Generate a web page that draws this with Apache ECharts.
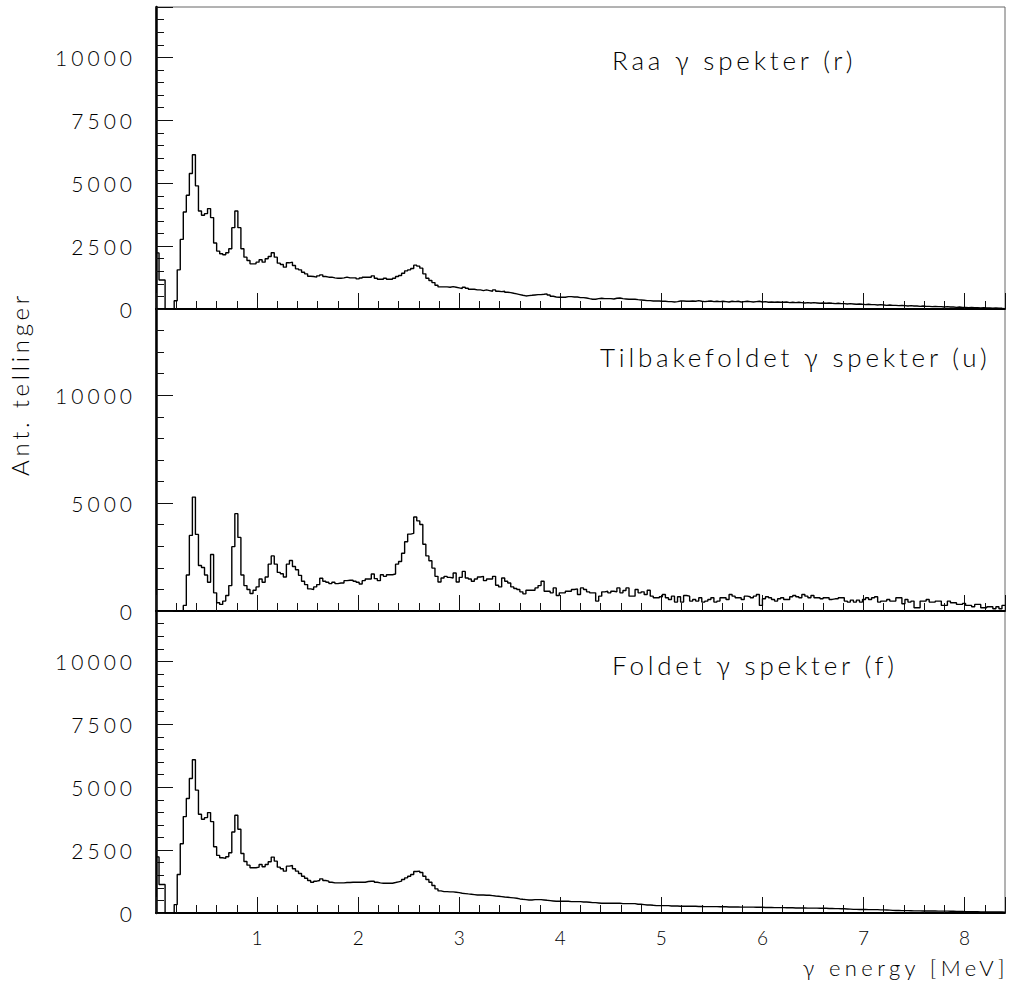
<!DOCTYPE html>
<html>
<head>
<meta charset="utf-8">
<script src="https://cdn.jsdelivr.net/npm/echarts@6/dist/echarts.min.js"></script>
<style>
html, body { margin: 0; padding: 0; background: #fff; }
#chart { width: 1010px; height: 984px; }
/* bred skrift som i originalen: litt ekstra sperring */
#chart text[style*="26px"] { letter-spacing: 3.8px; }
#chart text[style*="24px"] { letter-spacing: 3.7px; }
#chart text[style*="22px"] { letter-spacing: 4.4px; }
#chart text[style*="21px"] { letter-spacing: 4px; }
</style>
</head>
<body>
<div id="chart"></div>
<script>
// gamma-spekter, tre paneler (raa / tilbakefoldet / foldet)

var binWidth = 0.03; // MeV per kanal
var xMax = 8.4;

var raa = [
    2230, 1150, 1150, 0, 0, 0, 330, 1556, 2766, 3857,
    4522, 5387, 6131, 4894, 3897, 3724, 3790, 3990, 3631, 2620,
    2301, 2194, 2155, 2234, 2394, 3232, 3897, 3232, 2394, 2061,
    1928, 1795, 1795, 1862, 1955, 1862, 1995, 2088, 2234, 2061,
    1822, 1769, 1662, 1835, 1862, 1729, 1596, 1556, 1463, 1396,
    1303, 1290, 1264, 1317, 1357, 1290, 1264, 1264, 1237, 1224,
    1224, 1237, 1264, 1237, 1237, 1237, 1197, 1230, 1263, 1263,
    1263, 1317, 1224, 1184, 1184, 1224, 1184, 1184, 1224, 1290,
    1330, 1423, 1516, 1556, 1609, 1742, 1702, 1623, 1397, 1224,
    1130, 1050, 944, 878, 878, 878, 865, 891, 865, 838,
    811, 865, 825, 785, 785, 758, 758, 732, 758, 732,
    705, 758, 705, 692, 705, 665, 652, 625, 599, 572,
    545, 519, 532, 545, 559, 572, 572, 585, 599, 559,
    505, 479, 466, 466, 466, 492, 492, 479, 479, 452,
    452, 439, 412, 386, 386, 412, 426, 412, 412, 412,
    399, 426, 439, 412, 399, 386, 386, 386, 372, 359,
    346, 333, 333, 320, 320, 320, 306, 306, 293, 293,
    280, 293, 320, 320, 306, 306,
    320, 306, 333, 306, 293, 306, 320, 293, 306, 293,
    306, 293, 280, 306, 293, 306, 280, 293, 306, 293,
    280, 293, 306, 280, 293, 266, 280, 266, 280, 266,
    266, 280, 253, 266, 253, 266, 253, 240, 253, 240,
    253, 240, 226, 240, 226, 240, 226, 213, 226, 213,
    213, 200, 213, 200, 186, 200, 186, 173, 186, 173,
    173, 160, 173, 160, 146, 160, 146, 146, 133, 146,
    133, 120, 133, 120, 120, 106, 120, 106, 106, 93,
    106, 93, 93, 80, 93, 80, 80, 66, 80, 66,
    66, 53, 66, 53, 53, 40, 53, 40, 40, 27,
    40, 27, 27, 13
];

var tilbake = [
    0, 0, 0, 0, 0, 0, 0, 0, 0, 260,
    1668, 3504, 5279, 3550, 2111, 2020, 1668, 1331, 2616, 842,
    383, 306, 459, 719, 1178, 2984, 4514, 3412, 1668, 1178,
    995, 811, 964, 1117, 1484, 1331, 1576, 2173, 2555, 2173,
    1790, 1729, 1576, 2173, 2341, 2066, 1913, 1652, 1377, 1224,
    1025, 995, 1117, 1224, 1515, 1377, 1331, 1270, 1331, 1270,
    1300, 1300, 1408, 1423, 1423, 1377, 1331, 1255, 1408, 1484,
    1484, 1714, 1500, 1408, 1683, 1607, 1683, 1683, 1714, 2173,
    2295, 2678, 3213, 3565, 3596, 4361, 4177, 4009, 3091, 2555,
    2326, 1989, 1607, 1346, 1530, 1607, 1561, 1530, 1760, 1346,
    1561, 1836, 1530, 1484, 1377, 1484, 1576, 1607, 1408, 1484,
    1484, 1607, 1193, 1117, 1530, 1377, 1300, 1117, 1040, 995,
    887, 796, 964, 964, 964, 1071, 1178, 1377, 918, 918,
    842, 1071, 719, 842, 842, 918, 918, 995, 1025, 765,
    1071, 995, 887, 842, 842, 459, 689, 887, 918, 842,
    918, 887, 1071, 842, 949, 1071, 689, 689, 995, 842,
    887, 765, 964, 689, 612, 612, 658, 765, 612, 536,
    689, 413, 658, 413, 719, 689,
    459, 536, 459, 612, 413, 459, 536, 612, 413, 459,
    612, 612, 536, 765, 689, 612, 612, 536, 689, 658,
    612, 689, 765, 260, 565, 658, 612, 536, 459, 565,
    612, 536, 536, 658, 719, 658, 612, 765, 689, 612,
    719, 612, 612, 565, 612, 612, 536, 565, 565, 612,
    612, 459, 413, 505, 413, 505, 413, 536, 612, 536,
    612, 658, 413, 459, 459, 536, 459, 459, 612, 612,
    336, 536, 413, 459, 153, 153, 459, 459, 536, 413,
    413, 459, 459, 260, 260, 459, 383, 383, 306, 306,
    352, 260, 260, 200, 306, 306, 153, 153, 200, 200,
    107, 200, 107, 260
];

var foldet = [
    2230, 1130, 1130, 0, 0, 0, 333, 1530, 2753, 3830,
    4549, 5347, 6091, 4881, 3924, 3724, 3790, 3990, 3631, 2633,
    2288, 2195, 2168, 2234, 2394, 3219, 3884, 3325, 2367, 2048,
    1902, 1796, 1796, 1822, 1929, 1835, 1929, 2035, 2221, 2061,
    1822, 1756, 1662, 1862, 1889, 1756, 1662, 1569, 1463, 1383,
    1290, 1224, 1264, 1290, 1357, 1290, 1264, 1224, 1197, 1197,
    1197, 1197, 1210, 1210, 1224, 1224, 1224, 1224, 1224, 1250,
    1264, 1264, 1224, 1197, 1184, 1184, 1184, 1184, 1210, 1237,
    1264, 1330, 1397, 1463, 1530, 1649, 1663, 1609, 1463, 1330,
    1224, 1090, 958, 878, 851, 851, 838, 838, 825, 811,
    785, 772, 758, 745, 732, 718, 718, 718, 705, 705,
    692, 678, 665, 652, 638, 625, 612, 599, 585, 559,
    545, 532, 519, 519, 532, 532, 532, 519, 505, 492,
    479, 466, 466, 466, 466, 466, 452, 452, 452, 452,
    439, 439, 426, 412, 412, 399, 386, 386, 386, 386,
    386, 386, 386, 372, 372, 372, 372, 372, 346, 346,
    333, 320, 320, 306, 293, 293, 293, 293, 293, 279,
    279, 279, 266, 266, 266, 266,
    266, 266, 260, 260, 253, 253, 253, 253, 253, 246,
    246, 246, 240, 240, 240, 240, 233, 233, 233, 233,
    233, 226, 226, 226, 220, 220, 220, 213, 213, 213,
    213, 206, 206, 206, 200, 200, 200, 200, 193, 193,
    193, 193, 186, 186, 186, 180, 180, 173, 173, 166,
    166, 160, 153, 146, 146, 140, 140, 140, 133, 133,
    133, 133, 126, 126, 120, 113, 106, 100, 100, 93,
    93, 93, 90, 86, 86, 86, 80, 80, 80, 80,
    80, 76, 76, 73, 73, 70, 70, 66, 66, 60,
    53, 53, 53, 50, 50, 46, 46, 46, 43, 43,
    40, 40, 40, 36
];

var panelTitles = ['Raa \u03b3 spekter (r)', 'Tilbakefoldet \u03b3 spekter (u)', 'Foldet \u03b3 spekter (f)'];
var yMax = [12000, 14000, 12000];
var yLabelStep = [2500, 5000, 2500];
var yMinorStep = [500, 1000, 500];
var xLabelStep = 1;
var xMinorStep = 0.2;

var fontName = 'Lato';
var ink = '#000';

// histogram -> trappelinje (venstre kant av hver kanal + siste kant)
function toSteps(values) {
    var pts = [];
    for (var i = 0; i < values.length; i++) {
        pts.push([+(i * binWidth).toFixed(4), values[i]]);
    }
    pts.push([xMax, values[values.length - 1]]);
    return pts;
}

var panelData = [raa, tilbake, foldet];
var panelTop = [7, 309, 611];
var panelHeight = 302;
var titleX = [612, 600, 612];
var titleY = [60, 357, 665];

var grids = [], xAxes = [], yAxes = [], series = [], texts = [];

for (var g = 0; g < 3; g++) {
    grids.push({
        left: 156, right: 5, top: panelTop[g], height: panelHeight,
        show: true, borderColor: '#666', borderWidth: 1, backgroundColor: 'transparent'
    });

    // hovedakse x
    xAxes.push({
        type: 'value', gridIndex: g, position: 'bottom',
        min: 0, max: xMax, interval: xLabelStep,
        axisLine: { show: true, lineStyle: { color: '#000', width: 2 } },
        axisTick: { show: true, inside: true, length: 16, lineStyle: { color: '#111', width: 1 } },
        axisLabel: {
            show: g == 2, margin: 15, color: ink, fontSize: 19, fontFamily: fontName, fontWeight: 300,
            formatter: function(v) { return (v <= 0 || v > 8) ? '' : String(v); }
        },
        splitLine: { show: false }
    });
    // småstreker x
    xAxes.push({
        type: 'value', gridIndex: g, position: 'bottom',
        min: 0, max: xMax, interval: xMinorStep,
        axisLine: { show: false },
        axisTick: { show: true, inside: true, length: 8, lineStyle: { color: '#111', width: 1 } },
        axisLabel: { show: false },
        splitLine: { show: false }
    });

    // hovedakse y
    yAxes.push({
        type: 'value', gridIndex: g, position: 'left',
        min: 0, max: yMax[g], interval: yLabelStep[g],
        axisLine: { show: true, lineStyle: { color: '#000', width: 2.5 } },
        axisTick: { show: true, inside: true, length: 17, lineStyle: { color: '#111', width: 1 } },
        axisLabel: {
            show: true, margin: 20, color: ink, fontSize: 21, fontFamily: fontName, fontWeight: 300,
            formatter: function(v) { return v > 10000 ? '' : String(v); }
        },
        splitLine: { show: false }
    });
    // småstreker y
    yAxes.push({
        type: 'value', gridIndex: g, position: 'left',
        min: 0, max: yMax[g], interval: yMinorStep[g],
        axisLine: { show: false },
        axisTick: { show: true, inside: true, length: 8, lineStyle: { color: '#111', width: 1 } },
        axisLabel: { show: false },
        splitLine: { show: false }
    });

    series.push({
        type: 'line', step: 'end',
        xAxisIndex: g * 2, yAxisIndex: g * 2,
        data: toSteps(panelData[g]),
        showSymbol: false, symbol: 'none',
        lineStyle: { color: '#000', width: 1.4 },
        animation: false
    });

    texts.push({
        type: 'text', x: titleX[g], y: titleY[g],
        style: {
            text: panelTitles[g], fill: ink, fontSize: 26, fontFamily: fontName, fontWeight: 300,
            textAlign: 'left', textVerticalAlign: 'middle'
        }
    });
}

// aksetitler
texts.push({
    type: 'text', x: 1009, y: 967,
    style: {
        text: '\u03b3 energy [MeV]', fill: ink, fontSize: 22, fontFamily: fontName, fontWeight: 300,
        textAlign: 'right', textVerticalAlign: 'middle'
    }
});
texts.push({
    type: 'text', x: 19, y: 384, rotation: Math.PI / 2,
    style: {
        text: 'Ant. tellinger', fill: ink, fontSize: 24, fontFamily: fontName, fontWeight: 300,
        textAlign: 'center', textVerticalAlign: 'middle'
    }
});

var chart = echarts.init(document.getElementById('chart'), null, { renderer: 'svg' });
chart.setOption({
    backgroundColor: '#fff',
    animation: false,
    grid: grids,
    xAxis: xAxes,
    yAxis: yAxes,
    series: series,
    graphic: texts
});
</script>
</body>
</html>
